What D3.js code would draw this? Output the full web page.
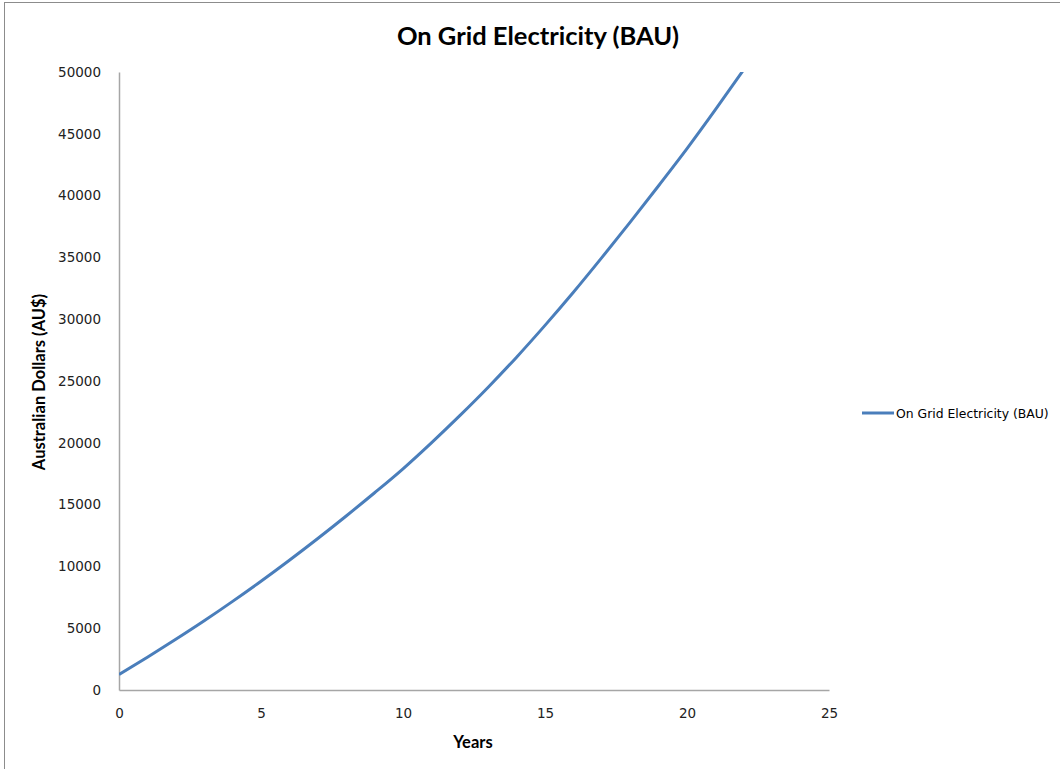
<!DOCTYPE html>
<html>
<head>
<meta charset="utf-8">
<script src="https://cdn.jsdelivr.net/npm/d3@7"></script>
<style>
html,body{margin:0;padding:0;background:#fff;}
svg{display:block;}
</style>
</head>
<body>
<svg id="chart" width="1060" height="769"></svg>
<script>
const years = [0,1,2,3,4,5,6,7,8,9,10,11,12,13,14,15,16,17,18,19,20,21,22,23,24,25];
const costs = [1250,2650,4100,5600,7170,8800,10500,12260,14080,15960,17900,20000,22200,24500,26930,29500,32180,34980,37850,40800,43800,46950,50200,53500,56900,60400];
const xTicks = [0,5,10,15,20,25];
const yTicks = [0,5000,10000,15000,20000,25000,30000,35000,40000,45000,50000];
const titleText = "On Grid Electricity (BAU)";
const seriesName = "On Grid Electricity (BAU)";
const xTitle = "Years";
const yTitle = "Australian Dollars (AU$)";

const svg = d3.select("#chart");
const L = 119, R = 829, T = 72, B = 690;
const x = d3.scaleLinear().domain([0,25]).range([L,R]);
const y = d3.scaleLinear().domain([0,50000]).range([B,T]);

svg.append("rect").attr("x",4.5).attr("y",2.5).attr("width",1200).attr("height",900)
  .attr("fill","none").attr("stroke","#8c8c8c").attr("stroke-width",1);

svg.append("text").attr("x",538).attr("y",45).attr("text-anchor","middle")
  .attr("font-family","Lato, 'Open Sans', sans-serif").attr("font-weight","bold")
  .attr("font-size",25.5).attr("fill","#000").text(titleText);

svg.append("clipPath").attr("id","clip").append("rect")
  .attr("x",L).attr("y",T).attr("width",R-L).attr("height",B-T);

const yAxis = svg.append("g").attr("transform",`translate(${L},0)`)
  .call(d3.axisLeft(y).tickValues(yTicks).tickSize(0).tickPadding(18).tickFormat(d3.format("d")));
const xAxis = svg.append("g").attr("transform",`translate(0,${B})`)
  .call(d3.axisBottom(x).tickValues(xTicks).tickSize(0).tickPadding(18).tickFormat(d3.format("d")));
[yAxis,xAxis].forEach(g=>{
  g.select(".domain").attr("stroke","#a6a6a6").attr("stroke-width",1.5);
  g.selectAll("text").attr("font-family","'DejaVu Sans', Verdana, sans-serif").attr("font-size",13.5).attr("fill","#222");
});

svg.append("path").datum(years.map((d,i)=>[d,costs[i]]))
  .attr("clip-path","url(#clip)")
  .attr("fill","none").attr("stroke","#4a7ebb").attr("stroke-width",3)
  .attr("d", d3.line().x(d=>x(d[0])).y(d=>y(d[1])).curve(d3.curveMonotoneX));

svg.append("text").attr("x",473).attr("y",748).attr("text-anchor","middle")
  .attr("font-family","Lato, 'Open Sans', sans-serif").attr("font-weight","bold")
  .attr("font-size",16.5).attr("fill","#000").text(xTitle);

svg.append("text").attr("transform","translate(45,382) rotate(-90)").attr("text-anchor","middle")
  .attr("font-family","Lato, 'Open Sans', sans-serif").attr("font-weight","bold")
  .attr("font-size",16.5).attr("fill","#000").text(yTitle);

const lg = svg.append("g");
lg.append("line").attr("x1",862).attr("x2",894).attr("y1",413).attr("y2",413)
  .attr("stroke","#4a7ebb").attr("stroke-width",3);
lg.append("text").attr("x",896).attr("y",418)
  .attr("font-family","'DejaVu Sans', Verdana, sans-serif").attr("font-size",12.4)
  .attr("fill","#000").text(seriesName);
</script>
</body>
</html>
